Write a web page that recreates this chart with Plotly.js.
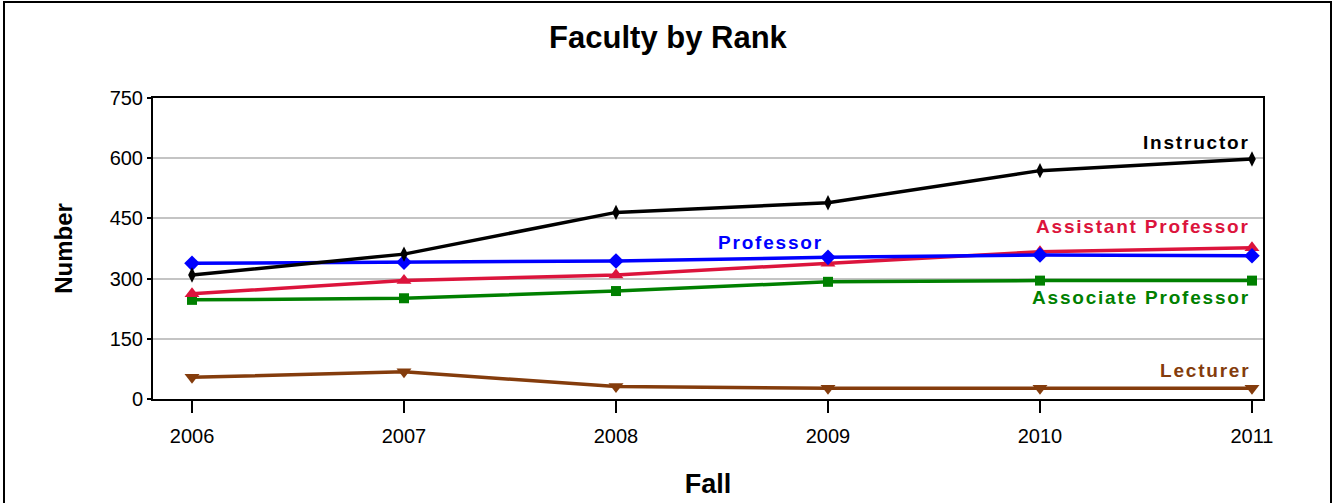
<!DOCTYPE html>
<html>
<head>
<meta charset="utf-8">
<script src="https://cdn.plot.ly/plotly-3.0.1.min.js"></script>
<style>
  html, body { margin: 0; padding: 0; background: #fff; }
  #wrap { position: relative; width: 1332px; height: 503px; overflow: hidden; }
  #chart { width: 1332px; height: 503px; }
  #frame { position: absolute; left: 3px; top: 1px; width: 1325px; height: 520px; border: 2px solid #000; pointer-events: none; }
  .annotation-text { letter-spacing: 1.8px; }
</style>
</head>
<body>
<div id="wrap">
  <div id="chart"></div>
  <div id="frame"></div>
</div>
<script>
const years = [2006, 2007, 2008, 2009, 2010, 2011];
const instructor = [309, 361, 465, 489, 569, 598];
const professor = [338, 341, 344, 353, 359, 357];
const assistantProfessor = [262, 295, 309, 338, 367, 377];
const associateProfessor = [247, 251, 269, 292, 295, 295];
const lecturer = [54, 68, 31, 27, 27, 27];
const yTicks = [0, 150, 300, 450, 600, 750];

const colors = {
  instructor: '#000000',
  professor: '#0000ff',
  assistant: '#dc143c',
  associate: '#008000',
  lecturer: '#843c0c'
};

function series(name, y, color, symbol, size) {
  return {
    x: years, y: y, name: name, type: 'scatter', mode: 'lines+markers',
    line: { color: color, width: 3.5 },
    marker: { color: color, symbol: symbol, size: size },
    hoverinfo: 'x+y+name'
  };
}

const data = [
  series('Associate Professor', associateProfessor, colors.associate, 'square', 10),
  series('Assistant Professor', assistantProfessor, colors.assistant, 'triangle-up', 13),
  series('Professor', professor, colors.professor, 'diamond', 12),
  series('Lecturer', lecturer, colors.lecturer, 'triangle-down', 13),
  series('Instructor', instructor, colors.instructor, 'diamond-tall', 11)
];

const fontFam = 'Liberation Sans, Arial, sans-serif';
const labelFont = (c) => ({ family: fontFam, size: 19, color: c });

const layout = {
  width: 1332, height: 503,
  margin: { l: 153, r: 69, t: 98, b: 104 },
  paper_bgcolor: '#fff', plot_bgcolor: '#fff',
  showlegend: false,
  title: {
    text: '<b>Faculty by Rank</b>',
    font: { family: fontFam, size: 31, color: '#000' },
    x: 0.5015, xref: 'container', xanchor: 'center',
    y: 1 - 37 / 503, yref: 'container', yanchor: 'middle'
  },
  xaxis: {
    range: [2005.816, 2011.052],
    tickvals: years, ticktext: years.map(String),
    ticks: 'outside', ticklen: 12, tickwidth: 2, tickcolor: '#000',
    ticklabelstandoff: 6,
    showgrid: false, zeroline: false,
    showline: true, linecolor: '#000', linewidth: 2, mirror: true,
    tickfont: { family: fontFam, size: 20, color: '#000' },
    title: { text: '<b>Fall</b>', font: { family: fontFam, size: 27, color: '#000' }, standoff: 28 }
  },
  yaxis: {
    range: [0, 750],
    tickvals: yTicks,
    ticks: 'outside', ticklen: 4, tickwidth: 2, tickcolor: '#000',
    showgrid: true, gridcolor: '#c4c4c4', gridwidth: 2,
    zeroline: false,
    showline: true, linecolor: '#000', linewidth: 2, mirror: true,
    tickfont: { family: fontFam, size: 20, color: '#000' },
    title: { text: '<b>Number</b>', font: { family: fontFam, size: 24, color: '#000' }, standoff: 30 }
  },
  annotations: [
    { text: '<b>Instructor</b>', x: 2011.0, y: 640, xref: 'x', yref: 'y', xanchor: 'right', yanchor: 'middle', showarrow: false, font: labelFont(colors.instructor) },
    { text: '<b>Assistant Professor</b>', x: 2011.0, y: 431, xref: 'x', yref: 'y', xanchor: 'right', yanchor: 'middle', showarrow: false, font: labelFont(colors.assistant) },
    { text: '<b>Professor</b>', x: 2008.73, y: 389, xref: 'x', yref: 'y', xanchor: 'center', yanchor: 'middle', showarrow: false, font: labelFont(colors.professor) },
    { text: '<b>Associate Professor</b>', x: 2011.0, y: 252, xref: 'x', yref: 'y', xanchor: 'right', yanchor: 'middle', showarrow: false, font: labelFont(colors.associate) },
    { text: '<b>Lecturer</b>', x: 2011.0, y: 70, xref: 'x', yref: 'y', xanchor: 'right', yanchor: 'middle', showarrow: false, font: labelFont(colors.lecturer) }
  ]
};

Plotly.newPlot('chart', data, layout, { displayModeBar: false, staticPlot: true });
</script>
</body>
</html>
